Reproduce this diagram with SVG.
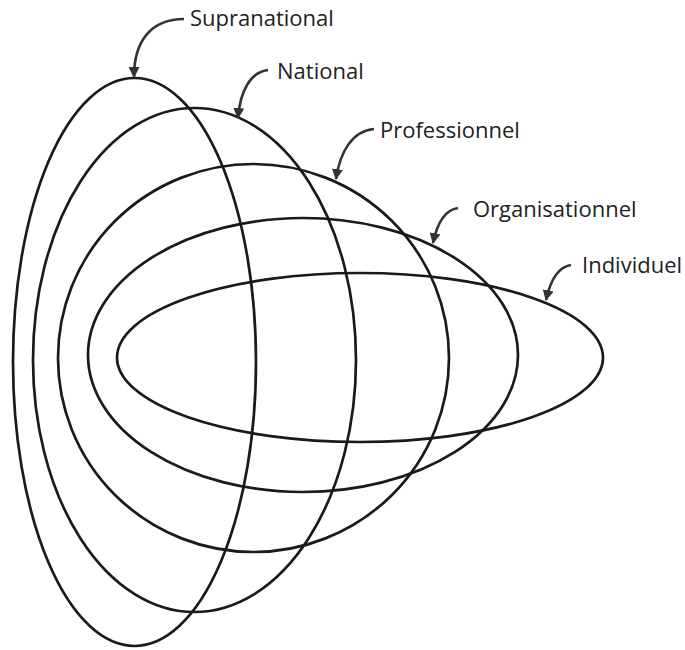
<svg xmlns="http://www.w3.org/2000/svg" width="685" height="650" viewBox="0 0 685 650">
<style>
.ring{fill:none;stroke:#1a1a1a;stroke-width:2.7}
.lead{fill:none;stroke:#333;stroke-width:2.6}
.lbl{font-family:"Open Sans","Noto Sans",sans-serif;font-size:22px;fill:#222}
</style>
<defs>
<marker id="ah" viewBox="0 0 10 10" refX="9" refY="5" markerUnits="userSpaceOnUse" markerWidth="11" markerHeight="11" orient="auto">
<path d="M0,0 L10,5 L0,10 z" fill="#333"/>
</marker>
</defs>
<rect width="685" height="650" fill="#fff"/>
<g id="supranational">
<ellipse class="ring" cx="134.5" cy="362" rx="121.5" ry="284"/>
<text class="lbl" x="190" y="26">Supranational</text>
</g>
<g id="national">
<ellipse class="ring" cx="194.5" cy="360" rx="161.5" ry="252"/>
<text class="lbl" x="277" y="79">National</text>
</g>
<g id="professionnel">
<ellipse class="ring" cx="253.5" cy="358" rx="195.5" ry="194"/>
<text class="lbl" x="380" y="138">Professionnel</text>
</g>
<g id="organisationnel">
<ellipse class="ring" cx="303" cy="355" rx="215" ry="137"/>
<text class="lbl" x="473" y="217">Organisationnel</text>
</g>
<g id="individuel">
<ellipse class="ring" cx="360" cy="357.5" rx="243" ry="84.5"/>
<text class="lbl" x="582" y="273">Individuel</text>
</g>
<g id="connectors">
<path class="lead" d="M184,19 C152,19 134,40 134,77" marker-end="url(#ah)"/>
<path class="lead" d="M268,70 C250,72 240,92 238,118" marker-end="url(#ah)"/>
<path class="lead" d="M374,129 C352,131 340,152 336,179" marker-end="url(#ah)"/>
<path class="lead" d="M458,208 C444,210 437,224 433,243" marker-end="url(#ah)"/>
<path class="lead" d="M571,265 C557,267 550,282 546,300" marker-end="url(#ah)"/>
</g>
</svg>
